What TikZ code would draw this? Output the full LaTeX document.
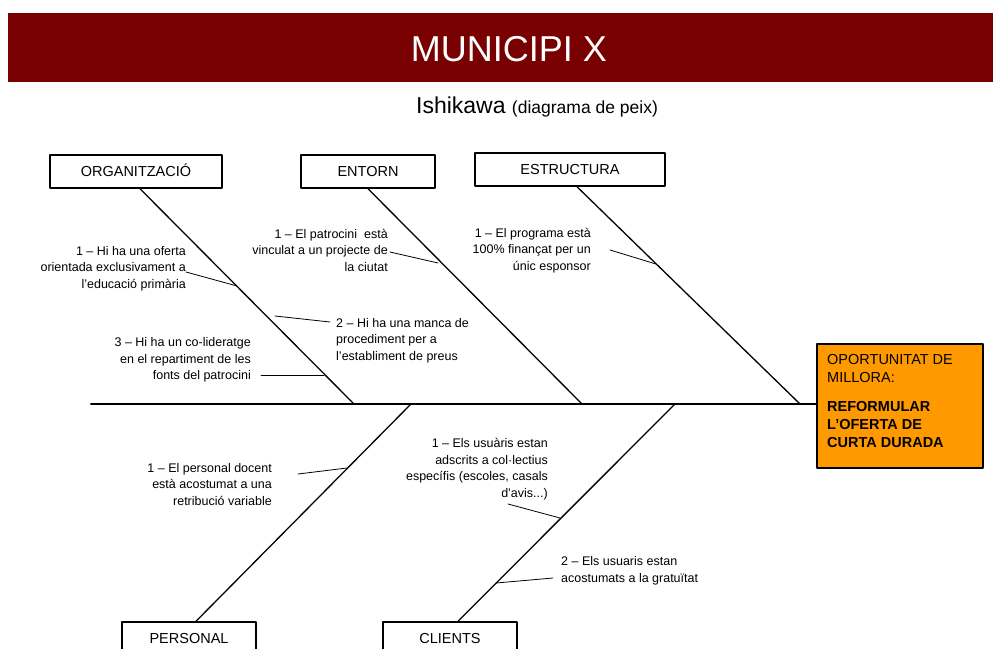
\documentclass[tikz,border=0pt]{standalone}
\usepackage{fontspec}
\setmainfont{Liberation Sans}
\definecolor{granat}{HTML}{780000}
\definecolor{taronja}{HTML}{FF9900}
\tikzset{
	caixa/.style={draw, line width=1.5pt, minimum height=33pt, inner sep=0pt,
		text height=10.4pt, text depth=0pt, font=\fontsize{14.5}{17}\selectfont},
	causa/.style={inner sep=0pt, font=\fontsize{12.5}{16.4}\selectfont},
	espina/.style={line width=2pt},
	os/.style={line width=1.3pt},
	branca/.style={line width=0.8pt}
}
\begin{document}
\begin{tikzpicture}[x=1pt, y=-1pt, line join=round, line cap=round]
		\clip (0,0) rectangle (993,648);
		% capcalera
		\fill[granat] (8,13) rectangle (993,82);
		\node[anchor=base, text=white, font=\fontsize{36}{40}\selectfont] (titol) at (509,61) {MUNICIPI X};
		\node[anchor=base, font=\fontsize{23}{26}\selectfont] (subtitol) at (537,113)
			{Ishikawa {\fontsize{17.5}{20}\selectfont(diagrama de peix)}};
		% caps de les espines
		\node[caixa, minimum width=172pt] (org) at (136,171.5) {ORGANITZACIÓ};
		\node[caixa, minimum width=134pt] (ent) at (368,171.5) {ENTORN};
		\node[caixa, minimum width=190pt] (est) at (570,169.5) {ESTRUCTURA};
		\node[caixa, minimum width=134pt] (per) at (189,638.5) {PERSONAL};
		\node[caixa, minimum width=134pt] (cli) at (450,638.5) {CLIENTS};
		% efecte (la base del node es l'ultima linia)
		\node[draw, fill=taronja, line width=1.5pt, minimum width=166pt, minimum height=124pt, inner sep=0pt] (efecte) at (900,406) {};
		\node[anchor=base west, align=left, inner sep=0pt, font=\fontsize{14.5}{18}\selectfont] (efecteText) at (827,447)
			{OPORTUNITAT DE\\MILLORA:\\[11pt]\textbf{REFORMULAR}\\\textbf{L’OFERTA DE}\\\textbf{CURTA DURADA}};
		\path
		(91,404) coordinate (cua)
		(354,404) coordinate (pOrg)
		(582,404) coordinate (pEnt)
		(800,404) coordinate (pEst)
		(411,404) coordinate (pPer)
		(675,404) coordinate (pCli)
		;
		\draw[espina] (cua) -- (cua -| efecte.west);
		\draw[os] ([xshift=4pt]org.south) -- (pOrg);
		\draw[os] (ent.south) -- (pEnt);
		\draw[os] ([xshift=7pt]est.south) -- (pEst);
		\draw[os] ([xshift=7pt]per.north) -- (pPer);
		\draw[os] ([xshift=8pt]cli.north) -- (pCli);
		% causes
		\node[causa, anchor=base east, align=right] (orgA) at (186,288)
			{1 – Hi ha una oferta\\orientada exclusivament a\\l’educació primària};
		\node[causa, anchor=base west, align=left] (orgB) at (336,360)
			{2 – Hi ha una manca de\\procediment per a\\l’establiment de preus};
		\node[causa, anchor=base east, align=right] (orgC) at (251,379.5)
			{3 – Hi ha un co-lideratge\\en el repartiment de les\\fonts del patrocini};
		\node[causa, anchor=base east, align=right] (entA) at (388,271)
			{1 – El patrocini\ \ està\\vinculat a un projecte de\\la ciutat};
		\node[causa, anchor=base east, align=right] (estA) at (591,270)
			{1 – El programa està\\100\% finançat per un\\únic esponsor};
		\node[causa, anchor=base east, align=right] (perA) at (272,505)
			{1 – El personal docent\\està acostumat a una\\retribució variable};
		\node[causa, anchor=base east, align=right] (cliA) at (548,497)
			{1 – Els usuàris estan\\adscrits a col·lectius\\específis (escoles, casals\\d’avis...)};
		\node[causa, anchor=base west, align=left] (cliB) at (561,582)
			{2 – Els usuaris estan\\acostumats a la gratuïtat};
		\path
		(186,272) coordinate (orgA1) (237,286) coordinate (orgA2)
		(330,322) coordinate (orgB1) (275,316) coordinate (orgB2)
		(261,375) coordinate (orgC1) (324,375) coordinate (orgC2)
		(390,252) coordinate (entA1) (438,263) coordinate (entA2)
		(610,250) coordinate (estA1) (656,264) coordinate (estA2)
		(298,474) coordinate (perA1) (347,468) coordinate (perA2)
		(508,504) coordinate (cliA1) (560,518) coordinate (cliA2)
		(553,578) coordinate (cliB1) (496,583) coordinate (cliB2)
		;
		\foreach \c in {orgA,orgB,orgC,entA,estA,perA,cliA,cliB}
		\draw[branca] (\c1) -- (\c2);
\end{tikzpicture}
\end{document}
